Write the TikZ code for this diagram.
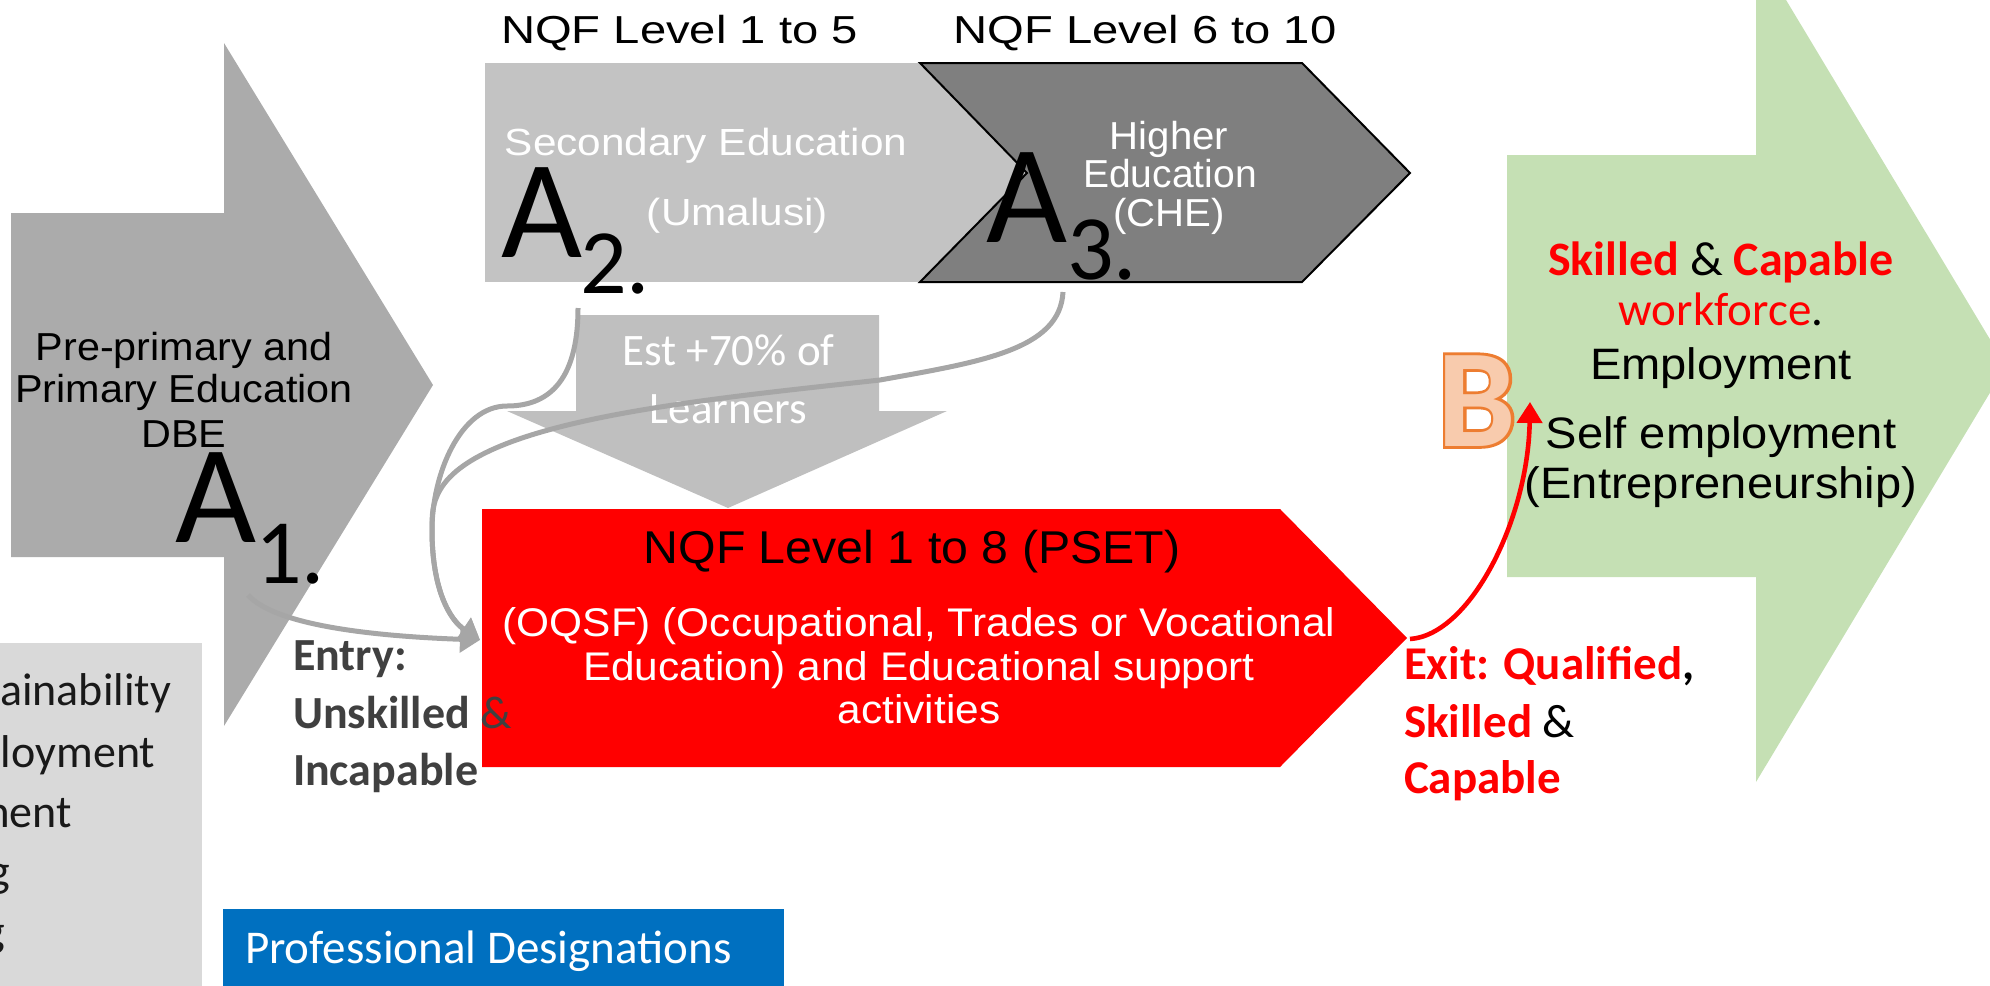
\documentclass[tikz,border=0pt]{standalone}
\usepackage{fontspec}
\usepackage{graphicx}
\usetikzlibrary{arrows.meta}
\newfontfamily\arialf{Liberation Sans}
\newfontfamily\calf{Carlito}
\newfontfamily\calout{Carlito}[BoldFeatures={FakeBold=4}]
\newcommand{\fsz}[1]{\fontsize{#1}{#1}\selectfont}
\newcommand{\hsc}[2]{\scalebox{#1}[1]{#2}}
\definecolor{gA}{HTML}{ABABAB}
\definecolor{gL}{HTML}{C3C3C3}
\definecolor{gD}{HTML}{7F7F7F}
\definecolor{gDown}{HTML}{BFBFBF}
\definecolor{gCurve}{HTML}{A6A6A6}
\definecolor{gBox}{HTML}{D9D9D9}
\definecolor{blueP}{HTML}{0070C0}
\definecolor{greenW}{HTML}{C5E0B4}
\definecolor{redB}{HTML}{FF0000}
\definecolor{bFill}{HTML}{F8CBAD}
\definecolor{bLine}{HTML}{ED7D31}
\definecolor{txtG}{HTML}{404040}
\begin{document}
\begin{tikzpicture}[x=0.5pt,y=-0.5pt,
  t/.style={inner sep=0pt, outer sep=0pt, anchor=base},
  tw/.style={inner sep=0pt, outer sep=0pt, anchor=base west},
  te/.style={inner sep=0pt, outer sep=0pt, anchor=base east},
  curve/.style={draw=gCurve, line width=2.5pt, -{Triangle[length=10pt,width=13pt]}},
  redcurve/.style={draw=redB, line width=2.3pt, -{Triangle[length=10.5pt,width=12.5pt]}},
  bigA/.style={tw, font=\calf\fsz{70pt}},
  subA/.style={tw, font=\calf\fsz{46pt}},
]
\useasboundingbox (0,0) rectangle (1990,985);
\clip (0,0) rectangle (1990,985);

% ---------- shapes ----------
\fill[gBox] (-10,643) rectangle (202,995);
\fill[blueP] (223,909) rectangle (784,995);
\fill[gA] (11,213) -- (224,213) -- (224,43) -- (433,385) -- (224,726) -- (224,557) -- (11,557) -- cycle;
\fill[gL] (485,63) rectangle (1030,282);
\filldraw[fill=gD, draw=black, line width=1pt] (920,63) -- (1302,63) -- (1410,173) -- (1302,282) -- (920,282) -- (1027,173) -- cycle;
\fill[gDown] (576,315) -- (879,315) -- (879,411) -- (947,411) -- (728,508) -- (507,411) -- (576,411) -- cycle;
\fill[redB] (482,509) -- (1280,509) -- (1407,638) -- (1280,767) -- (482,767) -- cycle;
\fill[greenW] (1507,155) -- (1756,155) -- (1756,-50) -- (2006,366) -- (1756,782) -- (1756,577) -- (1507,577) -- cycle;

% ---------- texts ----------
\node[t, font=\arialf\fsz{19.5pt}] (nqf15) at (679.5,43) {\hsc{1.21}{NQF Level 1 to 5}};
\node[t, font=\arialf\fsz{19.5pt}] (nqf610) at (1145,43) {\hsc{1.21}{NQF Level 6 to 10}};

\node[t, font=\arialf\fsz{18.9pt}, text=white] (sec1) at (706,155) {\hsc{1.12}{Secondary Education}};
\node[t, font=\arialf\fsz{18.9pt}, text=white] (sec2) at (737.5,225) {\hsc{1.12}{(Umalusi)}};

\node[t, font=\arialf\fsz{19.5pt}, text=white] (he1) at (1169,149) {\hsc{1.03}{Higher}};
\node[t, font=\arialf\fsz{19.5pt}, text=white] (he2) at (1170,187) {\hsc{1.0}{Education}};
\node[t, font=\arialf\fsz{19.5pt}, text=white] (he3) at (1169,226) {\hsc{1.03}{(CHE)}};

\node[t, font=\arialf\fsz{19.5pt}] (pp1) at (184,360) {\hsc{1.06}{Pre-primary and}};
\node[t, font=\arialf\fsz{19.5pt}] (pp2) at (184,402) {\hsc{1.06}{Primary Education}};
\node[t, font=\arialf\fsz{19.5pt}] (pp3) at (184,447) {\hsc{1.06}{DBE}};

\node[t, font=\calf\fsz{22.5pt}, text=white] (est1) at (728.5,365) {Est +70\% of};
\node[t, font=\calf\fsz{22.5pt}, text=white] (est2) at (728.5,423) {Learners};

\node[t, font=\arialf\fsz{23pt}] (r1) at (912,563) {\hsc{1.05}{NQF Level 1 to 8 (PSET)}};
\node[t, font=\arialf\fsz{20pt}, text=white] (r2) at (919,636) {\hsc{1.06}{(OQSF) (Occupational, Trades or Vocational}};
\node[t, font=\arialf\fsz{20pt}, text=white] (r3) at (919,680) {\hsc{1.06}{Education) and Educational support}};
\node[t, font=\arialf\fsz{20pt}, text=white] (r4) at (919,723) {\hsc{1.06}{activities}};

\node[t, font=\calf\fsz{24pt}] (g1) at (1721,275) {\textbf{\color{redB}Skilled} \& \textbf{\color{redB}Capable}};
\node[t, font=\calf\fsz{23.5pt}] (g2) at (1721,325) {{\color{redB}workforce}.};
\node[t, font=\arialf\fsz{22pt}] (g3) at (1721,379) {\hsc{1.07}{Employment}};
\node[t, font=\arialf\fsz{22pt}] (g4) at (1721,448) {\hsc{1.07}{Self employment}};
\node[t, font=\arialf\fsz{22pt}] (g5) at (1721,498) {\hsc{1.07}{(Entrepreneurship)}};

\node[tw, font=\calf\bfseries\fsz{23pt}, text=txtG] (en1) at (293,670) {Entry:};
\node[tw, font=\calf\bfseries\fsz{23pt}, text=txtG] (en2) at (293,728) {Unskilled {\mdseries\&}};
\node[tw, font=\calf\bfseries\fsz{23pt}, text=txtG] (en3) at (293,785) {Incapable};

\node[tw, font=\calf\bfseries\fsz{23.5pt}] (ex1) at (1404,679) {{\color{redB}Exit: Qualified},};
\node[tw, font=\calf\bfseries\fsz{23.5pt}] (ex2) at (1404,737) {{\color{redB}Skilled} {\mdseries\&}};
\node[tw, font=\calf\bfseries\fsz{23.5pt}] (ex3) at (1404,793) {{\color{redB}Capable}};

\node[tw, font=\calf\fsz{23.5pt}, text=white] (pd) at (245,963) {Professional Designations};

\node[te, font=\calf\fsz{23pt}, text=black!90] (bl1) at (171,705) {ainability};
\node[tw, font=\calf\fsz{23pt}, text=black!90] (bl2) at (1,767) {loyment};
\node[te, font=\calf\fsz{23pt}, text=black!90] (bl3) at (72,827) {ment};
\node[te, font=\calf\fsz{23pt}, text=black!90] (bl4) at (10,886) {g};
\node[te, font=\calf\fsz{23pt}, text=black!90] (bl5) at (5,946) {g};

% ---------- connectors ----------
\coordinate (a1s) at (248,595);
\coordinate (a2s) at (578,308);
\coordinate (a3s) at (1063,292);
\coordinate (psetin) at (480,640);
\coordinate (psetout) at (1410,639);
\coordinate (workin) at (1530,402);

\draw[curve] (a1s) .. controls (275,625) and (370,636) .. (psetin);
\draw[curve] (a2s) .. controls (578,385) and (545,406) .. (507,406)
  .. controls (460,406) and (432,475) .. (432,530)
  .. controls (432,590) and (450,620) .. (psetin);
\draw[curve] (a3s) .. controls (1060,350) and (980,362) .. (880,380)
  .. controls (700,400) and (480,420) .. (440,490)
  .. controls (432,504) and (432,515) .. (432,530)
  .. controls (432,590) and (450,620) .. (psetin);
\draw[redcurve] (psetout) .. controls (1470,635) and (1528,520) .. (workin);

% ---------- big letters ----------
\node[bigA] (A1) at (175,542) {A};
\node[subA] (A1s) at (255,583) {1.};
\node[bigA] (A2) at (501,257) {A};
\node[subA] (A2s) at (580,293) {2.};
\node[bigA] (A3) at (986,242) {A};
\node[subA] (A3s) at (1067,279) {3.};

\node[t, font=\calout\bfseries\fsz{70pt}, text=bLine] (Bo) at (1477,446) {B};
\node[t, font=\calf\bfseries\fsz{70pt}, text=bFill] (B) at (1477,446) {B};
\end{tikzpicture}
\end{document}
